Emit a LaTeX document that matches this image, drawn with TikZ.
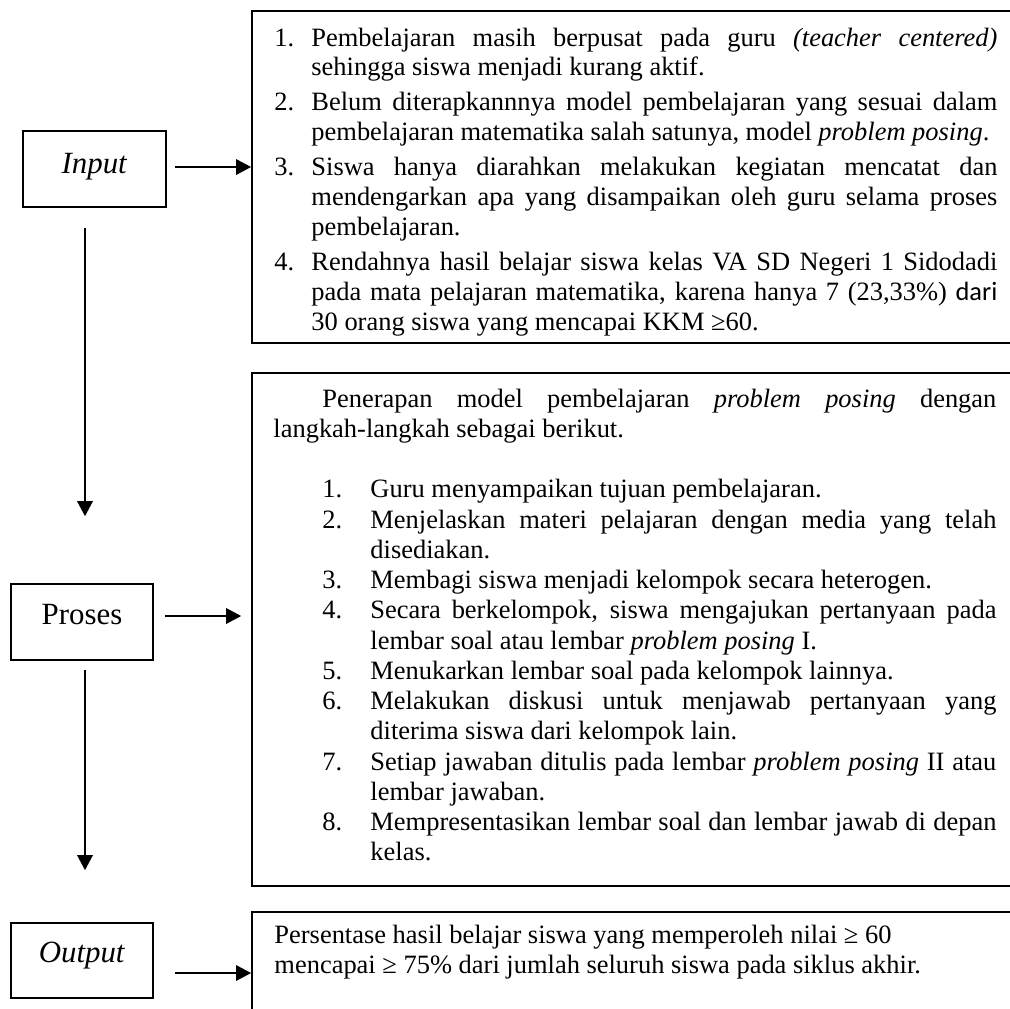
\documentclass[tikz,border=0pt]{standalone}
\usepackage{fontspec}
\setmainfont{Liberation Serif}
\newfontfamily\carl{Carlito}
\usetikzlibrary{arrows.meta,calc,fit}
\newlength\U \setlength\U{0.4535pt}
\newcommand\J[2]{\makebox[#1\U][s]{#2}}
\newcommand\Lb[2]{\makebox[#1\U][l]{#2}}
\newcommand\Ln[1]{\noindent\hbox{#1}\par}
\tikzset{
  box/.style={draw, line width=0.7pt, inner sep=0pt},
  lbl/.style={font=\fontsize{14pt}{16pt}\selectfont, anchor=base, inner sep=0pt},
  arr/.style={line width=0.8pt, -{Triangle[length=6.8pt,width=7pt]}},
  txt/.style={anchor=base west, inner sep=0pt, font=\fontsize{12pt}{13.6pt}\selectfont},
}
\begin{document}
\begin{tikzpicture}[x=0.4535pt,y=-0.4535pt]
\clip (0,0) rectangle (1010,1008);
\fill[white] (0,0) rectangle (1010,1008);
% left boxes
\node[box, fit={(23,131) (166,207)}] (inp) {};
\node[box, fit={(11,584) (153,660)}] (pro) {};
\node[box, fit={(11,923) (153,998)}] (out) {};
\node[lbl] (inpL) at ($(inp.center)+(0,4)$) {\textit{Input}};
\node[lbl] (proL) at ($(pro.center)+(0,2)$) {Proses};
\node[lbl] (outL) at ($(out.center)+(0,2)$) {\textit{Output}};
% big boxes (right and bottom sides run off the picture)
\node[box, line width=0.8pt, fit={(252,11) (1060,343)}] (b1) {};
\node[box, line width=0.8pt, fit={(252,373) (1060,886)}] (b2) {};
\node[box, line width=0.8pt, fit={(252,912) (1060,1060)}] (b3) {};
% texts
\node[txt] (t1) at (274,46) {\begin{minipage}[t]{723\U}\fontsize{12pt}{13.6pt}\selectfont\parindent0pt\lineskiplimit=-20pt
\Ln{\Lb{37}{1.}\J{686}{Pembelajaran masih berpusat pada guru \textit{(teacher centered)}}}
\Ln{\hspace*{37\U}sehingga siswa menjadi kurang aktif.}
\vspace{5\U}
\Ln{\Lb{37}{2.}\J{686}{Belum diterapkannnya model pembelajaran yang sesuai dalam}}
\Ln{\hspace*{37\U}pembelajaran matematika salah satunya, model \textit{problem posing}.}
\vspace{5\U}
\Ln{\Lb{37}{3.}\J{686}{Siswa hanya diarahkan melakukan kegiatan mencatat dan}}
\Ln{\hspace*{37\U}\J{686}{mendengarkan apa yang disampaikan oleh guru selama proses}}
\Ln{\hspace*{37\U}pembelajaran.}
\vspace{5\U}
\Ln{\Lb{37}{4.}\J{686}{Rendahnya hasil belajar siswa kelas VA SD Negeri 1 Sidodadi}}
\Ln{\hspace*{37\U}\J{686}{pada mata pelajaran matematika, karena hanya 7 (23,33\%) {\carl dari}}}
\Ln{\hspace*{37\U}30 orang siswa yang mencapai KKM ≥60.}
\end{minipage}};
\node[txt] (t2) at (273,407) {\begin{minipage}[t]{723\U}\fontsize{12pt}{13.72pt}\selectfont\parindent0pt\lineskiplimit=-20pt
\Ln{\hspace*{49\U}\J{674}{Penerapan model pembelajaran \textit{problem posing} dengan}}
\Ln{langkah-langkah sebagai berikut.}
\Ln{}
\Ln{\hspace*{49\U}\Lb{48}{1.}Guru menyampaikan tujuan pembelajaran.}
\Ln{\hspace*{49\U}\Lb{48}{2.}\J{626}{Menjelaskan materi pelajaran dengan media yang telah}}
\Ln{\hspace*{97\U}disediakan.}
\Ln{\hspace*{49\U}\Lb{48}{3.}Membagi siswa menjadi kelompok secara heterogen.}
\Ln{\hspace*{49\U}\Lb{48}{4.}\J{626}{Secara berkelompok, siswa mengajukan pertanyaan pada}}
\Ln{\hspace*{97\U}lembar soal atau lembar \textit{problem posing} I.}
\Ln{\hspace*{49\U}\Lb{48}{5.}Menukarkan lembar soal pada kelompok lainnya.}
\Ln{\hspace*{49\U}\Lb{48}{6.}\J{626}{Melakukan diskusi untuk menjawab pertanyaan yang}}
\Ln{\hspace*{97\U}diterima siswa dari kelompok lain.}
\Ln{\hspace*{49\U}\Lb{48}{7.}\J{626}{Setiap jawaban ditulis pada lembar \textit{problem posing} II atau}}
\Ln{\hspace*{97\U}lembar jawaban.}
\Ln{\hspace*{49\U}\Lb{48}{8.}\J{626}{Mempresentasikan lembar soal dan lembar jawab di depan}}
\Ln{\hspace*{97\U}kelas.}
\end{minipage}};
\node[txt] (t3) at (274,943) {\begin{minipage}[t]{723\U}\fontsize{12pt}{13.6pt}\selectfont\parindent0pt
\Ln{Persentase hasil belajar siswa yang memperoleh nilai ≥ 60}
\Ln{mencapai ≥ 75\% dari jumlah seluruh siswa pada siklus akhir.}
\end{minipage}};
% connectors
\coordinate (a1) at ($(inp.east)+(8,-2)$);
\draw[arr] (a1) -- (a1 -| b1.west);
\coordinate (a2) at ($(pro.east)+(11,-6)$);
\draw[arr, shorten >=4.5pt] (a2) -- (a2 -| b2.west);
\coordinate (a3) at ($(out.east)+(21,12.5)$);
\draw[arr] (a3) -- (a3 -| b3.west);
\coordinate (v1) at ($(inp.south)+(-9.5,20)$);
\draw[arr, shorten >=30.4pt] (v1) -- (v1 |- pro.north);
\coordinate (v2) at ($(pro.south)+(3,9)$);
\draw[arr, shorten >=23.6pt] (v2) -- (v2 |- out.north);
\end{tikzpicture}
\end{document}
